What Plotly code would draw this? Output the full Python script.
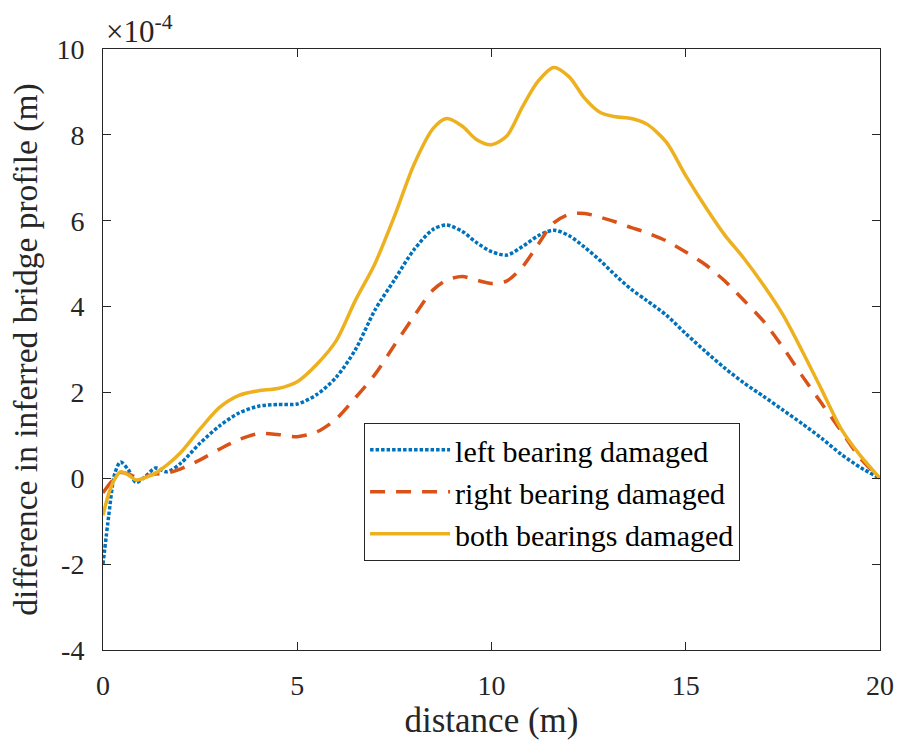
import plotly.graph_objects as go

# distance along the bridge (m)
distance = [0, 0.15, 0.3, 0.45, 0.65, 0.85, 1.1, 1.35, 1.65, 2, 2.5, 3, 3.5, 4, 4.5, 5,
            5.5, 6, 6.5, 7, 7.5, 8, 8.5, 8.85, 9.25, 9.6, 10, 10.4, 10.8, 11.2, 11.6, 12,
            12.4, 12.8, 13.2, 13.6, 14, 14.5, 15, 15.5, 16, 16.5, 17, 17.5, 18, 18.5, 19,
            19.5, 20]

# difference in inferred bridge profile, in units of 1e-4 m
left_damaged = [-2.0, -0.85, 0.1, 0.38, 0.2, -0.1, 0.05, 0.24, 0.15, 0.35, 0.82, 1.22,
                1.52, 1.68, 1.72, 1.73, 1.95, 2.35, 3.0, 3.92, 4.62, 5.32, 5.8, 5.9, 5.75,
                5.5, 5.28, 5.2, 5.4, 5.65, 5.78, 5.65, 5.38, 5.07, 4.72, 4.4, 4.14, 3.8,
                3.37, 2.96, 2.57, 2.22, 1.91, 1.59, 1.27, 0.93, 0.56, 0.25, 0.0]

right_damaged = [-0.34, -0.15, 0.0, 0.13, 0.1, 0.03, 0.05, 0.1, 0.12, 0.22, 0.43, 0.68,
                 0.9, 1.04, 1.02, 0.97, 1.08, 1.38, 1.88, 2.42, 3.1, 3.77, 4.39, 4.62, 4.7,
                 4.62, 4.54, 4.6, 4.93, 5.45, 5.95, 6.15, 6.17, 6.08, 5.97, 5.84, 5.72,
                 5.53, 5.27, 4.98, 4.6, 4.14, 3.66, 3.05, 2.38, 1.74, 1.1, 0.46, 0.0]

both_damaged = [-0.86, -0.35, -0.02, 0.15, 0.08, -0.04, 0.02, 0.12, 0.31, 0.6, 1.15, 1.65,
                1.93, 2.04, 2.09, 2.25, 2.65, 3.2, 4.15, 5.0, 6.1, 7.3, 8.15, 8.38, 8.2,
                7.9, 7.77, 7.98, 8.66, 9.25, 9.57, 9.35, 8.85, 8.52, 8.42, 8.38, 8.25, 7.83,
                7.05, 6.33, 5.67, 5.12, 4.5, 3.81, 2.96, 2.06, 1.15, 0.52, 0.0]

series_names = ["left bearing damaged", "right bearing damaged", "both bearings damaged"]
x_ticks = [0, 5, 10, 15, 20]
y_ticks = [-4, -2, 0, 2, 4, 6, 8, 10]
y_tick_labels = ["-4", "-2", "0", "2", "4", "6", "8", "10"]

FONT = "Liberation Serif, Times New Roman, serif"
INK = "#262626"

fig = go.Figure()
fig.add_trace(go.Scatter(x=distance, y=left_damaged, name=series_names[0], mode="lines",
                         line=dict(color="#0072BD", width=3.5, dash="3.5px,2px",
                                   shape="spline", smoothing=0.8)))
fig.add_trace(go.Scatter(x=distance, y=right_damaged, name=series_names[1], mode="lines",
                         line=dict(color="#D95319", width=3.5, dash="15px,11px",
                                   shape="spline", smoothing=0.8)))
fig.add_trace(go.Scatter(x=distance, y=both_damaged, name=series_names[2], mode="lines",
                         line=dict(color="#EDB120", width=3.5,
                                   shape="spline", smoothing=0.8)))

axis_common = dict(showgrid=False, zeroline=False, showline=True, linecolor=INK,
                   linewidth=1, mirror="ticks", ticks="inside", ticklen=8,
                   tickcolor=INK, tickwidth=1,
                   tickfont=dict(family=FONT, size=28, color=INK))

fig.update_xaxes(range=[0, 20], tickvals=x_ticks, ticklabelstandoff=10,
                 title=dict(text="distance (m)", font=dict(family=FONT, size=35, color=INK),
                            standoff=0),
                 **axis_common)
fig.update_yaxes(range=[-4, 10], tickvals=y_ticks, ticktext=y_tick_labels,
                 ticklabelstandoff=12,
                 title=dict(text="difference in inferred bridge profile (m)",
                            font=dict(family=FONT, size=33.5, color=INK), standoff=8),
                 **axis_common)

fig.add_annotation(text="×10<sup>-4</sup>", xref="paper", yref="paper", x=0, y=1,
                   xanchor="left", yanchor="bottom", xshift=1, yshift=-2, showarrow=False,
                   font=dict(family=FONT, size=31, color=INK))

fig.update_layout(
    width=901, height=747,
    margin=dict(l=103, r=21, t=49, b=97, autoexpand=False),
    paper_bgcolor="white", plot_bgcolor="white",
    showlegend=True,
    legend=dict(x=0.336, y=0.378, xanchor="left", yanchor="top",
                bgcolor="white", bordercolor=INK, borderwidth=1,
                font=dict(family=FONT, size=30, color="black"),
                itemwidth=80, tracegroupgap=0),
)

fig.write_html("out.html")
